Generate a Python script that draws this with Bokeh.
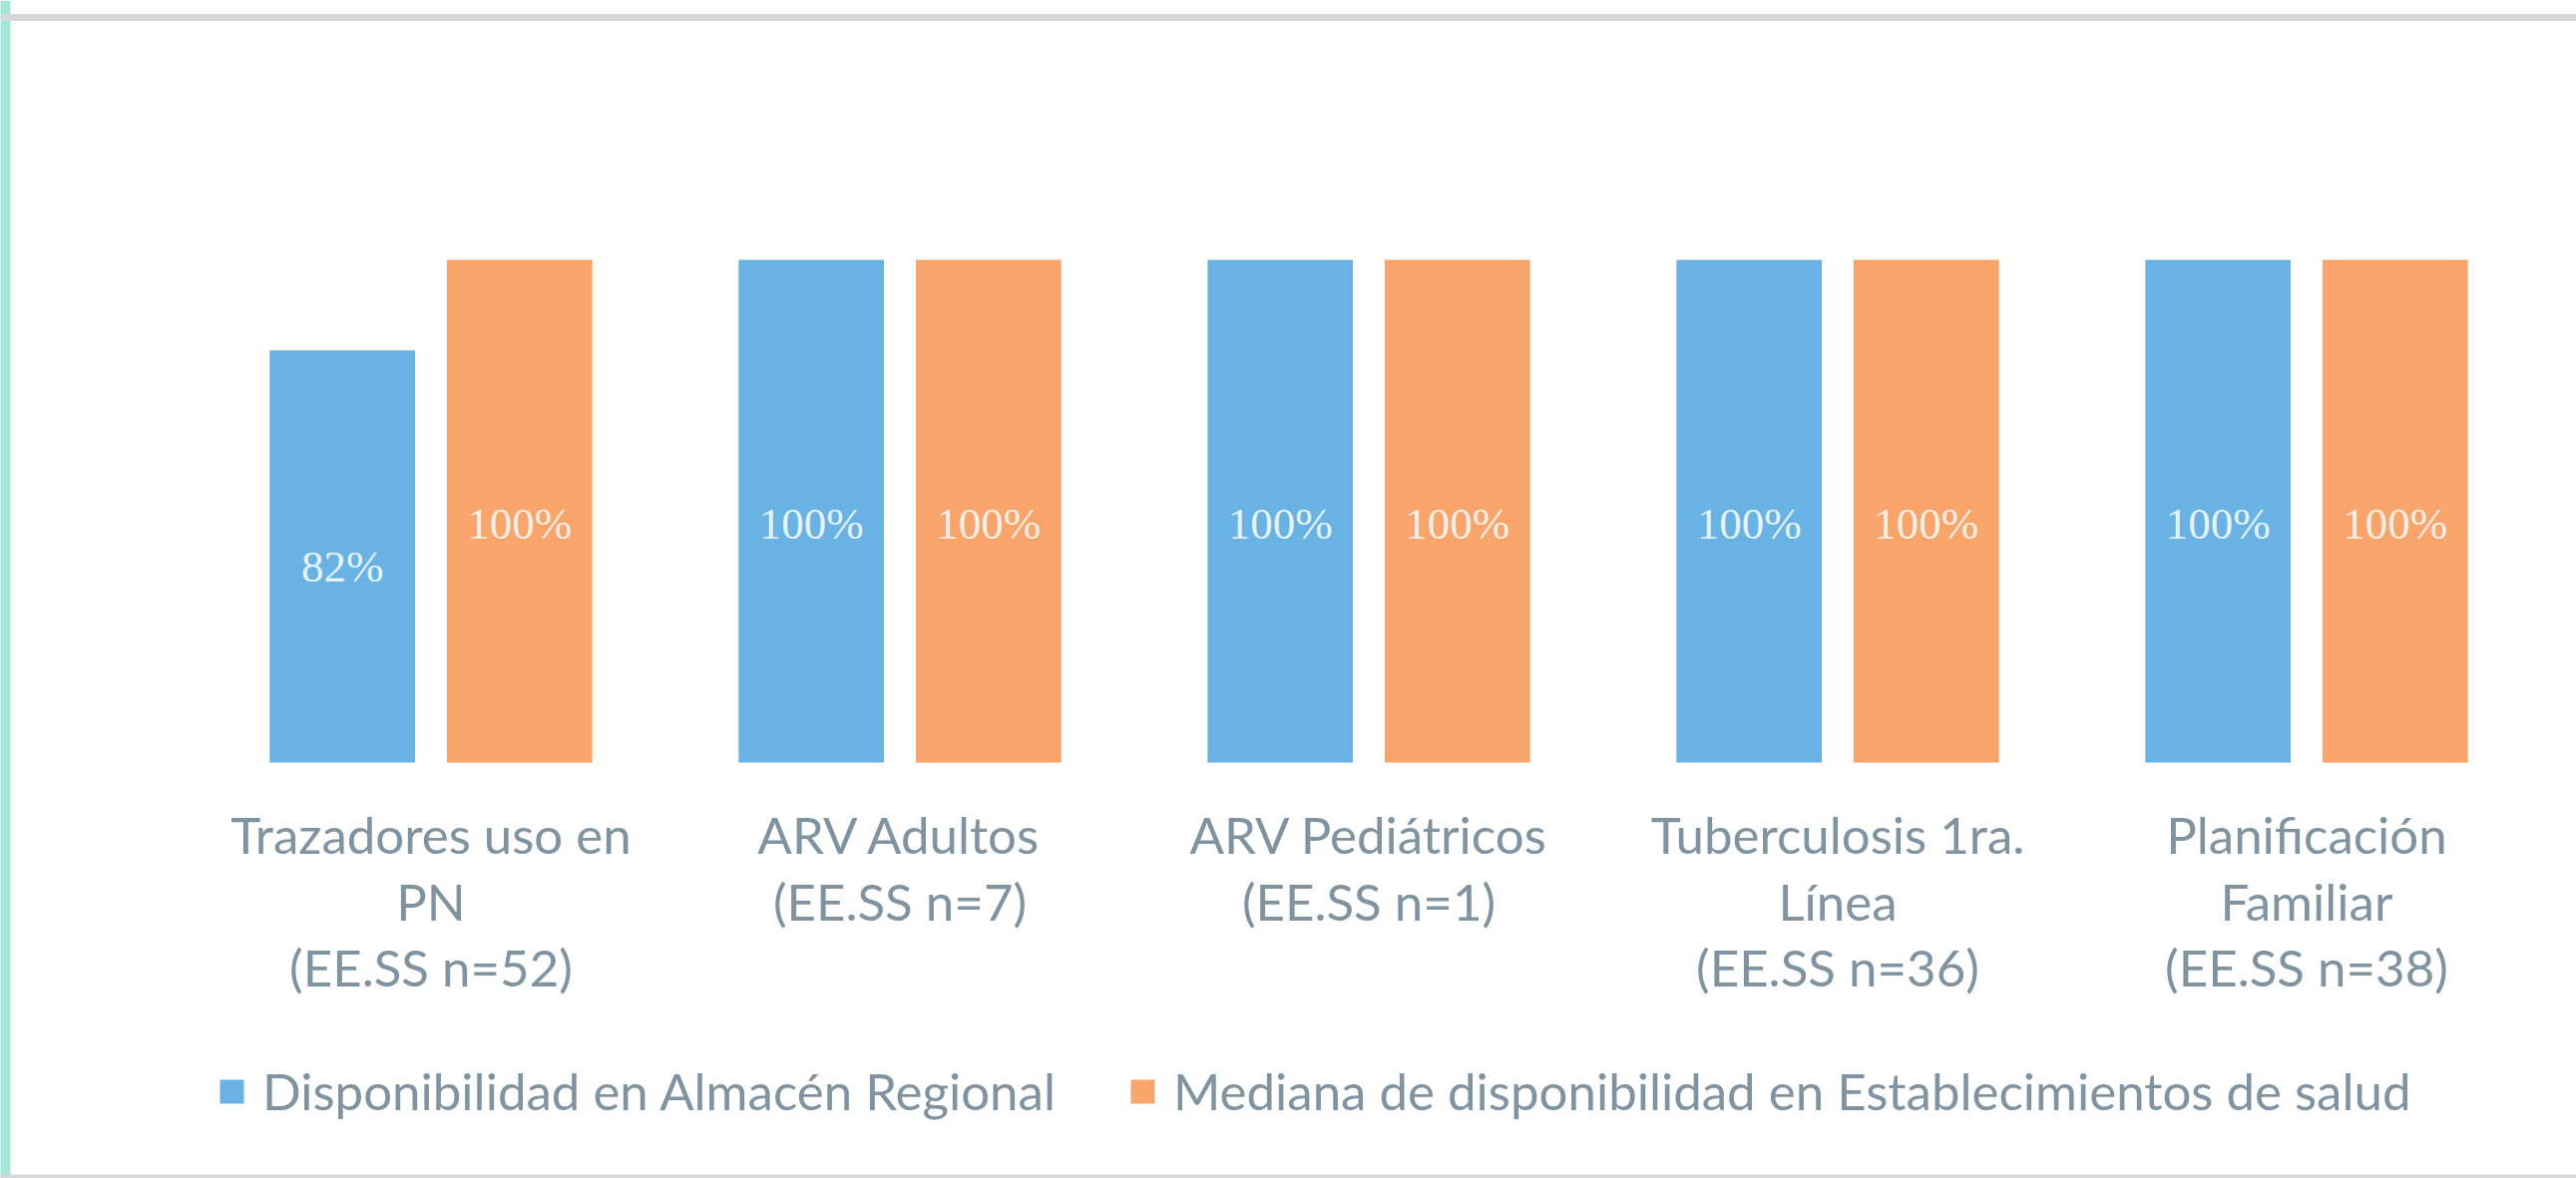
from bokeh.plotting import figure
from bokeh.models import Range1d, Span, Legend, LegendItem, ColumnDataSource
from bokeh.core.properties import value
from bokeh.transform import dodge
from bokeh.embed import file_html
from bokeh.resources import INLINE

# ---- data ----
categories = [
    "Trazadores uso en\nPN\n(EE.SS n=52)",
    "ARV Adultos\n(EE.SS n=7)",
    "ARV Pediátricos\n(EE.SS n=1)",
    "Tuberculosis 1ra.\nLínea\n(EE.SS n=36)",
    "Planificación\nFamiliar\n(EE.SS n=38)",
]
series_names = [
    "Disponibilidad en Almacén Regional",
    "Mediana de disponibilidad en Establecimientos de salud",
]
almacen = [0.82, 1.00, 1.00, 1.00, 1.00]
mediana = [1.00, 1.00, 1.00, 1.00, 1.00]

# ---- style ----
W, H = 2582, 1181
BASE = 764.0      # pixel row of the zero line
PXY = 504.0       # pixels per 100 %
PXX = 470.0       # pixels per category
BLUE = "#69b3e4"
ORANGE = "#f8a46b"
TXT = "#7f93a1"
FONT = "Lato"

idx = list(range(len(categories)))
src = ColumnDataSource(dict(
    x=idx,
    cat=categories,
    alm=almacen,
    med=mediana,
    alm_lab=[f"{v*100:.0f}%" for v in almacen],
    med_lab=[f"{v*100:.0f}%" for v in mediana],
    alm_mid=[v * 0.475 for v in almacen],
    med_mid=[v * 0.475 for v in mediana],
    cat_y=[-0.083] * len(categories),
))

x0 = -431.5 / PXX
p = figure(width=W, height=H,
           x_range=Range1d(x0, x0 + W / PXX),
           y_range=Range1d(-(H - BASE) / PXY, BASE / PXY),
           output_backend="svg", toolbar_location=None,
           x_axis_location=None, y_axis_location=None,
           min_border=0)
p.grid.visible = False
p.outline_line_color = None
p.background_fill_color = "white"
p.border_fill_color = "white"

off = 0.189
bw = 0.31
r1 = p.vbar(x=dodge("x", -off, range=p.x_range), top="alm", width=bw, bottom=0,
            source=src, fill_color=BLUE, line_color=None)
r2 = p.vbar(x=dodge("x", off, range=p.x_range), top="med", width=bw, bottom=0,
            source=src, fill_color=ORANGE, line_color=None)

lab_kw = dict(text_align="center", text_baseline="middle",
              text_font=value("Liberation Serif"), text_font_size="45px",
              text_color="white", text_alpha=0.85, source=src)
p.text(x=dodge("x", -off, range=p.x_range), y="alm_mid", text="alm_lab", **lab_kw)
p.text(x=dodge("x", off, range=p.x_range), y="med_mid", text="med_lab", **lab_kw)

p.text(x="x", y="cat_y", text="cat", source=src, text_align="center",
       text_baseline="top", text_font=value(FONT), text_font_size="51px",
       text_color=TXT, text_line_height=1.09)

# frame lines
p.add_layout(Span(location=x0, dimension="height", line_color="#a6e6d6", line_width=20))
p.add_layout(Span(location=(BASE - 17) / PXY, dimension="width",
                  line_color="#d4d8d8", line_width=7))
p.add_layout(Span(location=-(H - BASE) / PXY, dimension="width",
                  line_color="#d4d8d8", line_width=8))

leg_kw = dict(orientation="horizontal", padding=0, margin=0, border_line_color=None,
              background_fill_alpha=0, glyph_width=30, glyph_height=30,
              label_standoff=16, label_text_font_size="51px",
              label_text_color=TXT, label_text_font=FONT, label_height=30)
leg1 = Legend(items=[LegendItem(label=series_names[0], renderers=[r1])],
              location=(217, 57), **leg_kw)
leg2 = Legend(items=[LegendItem(label=series_names[1], renderers=[r2])],
              location=(1130, 57), **leg_kw)
p.add_layout(leg1)
p.add_layout(leg2)

open("out.html", "w").write(file_html(p, INLINE))
